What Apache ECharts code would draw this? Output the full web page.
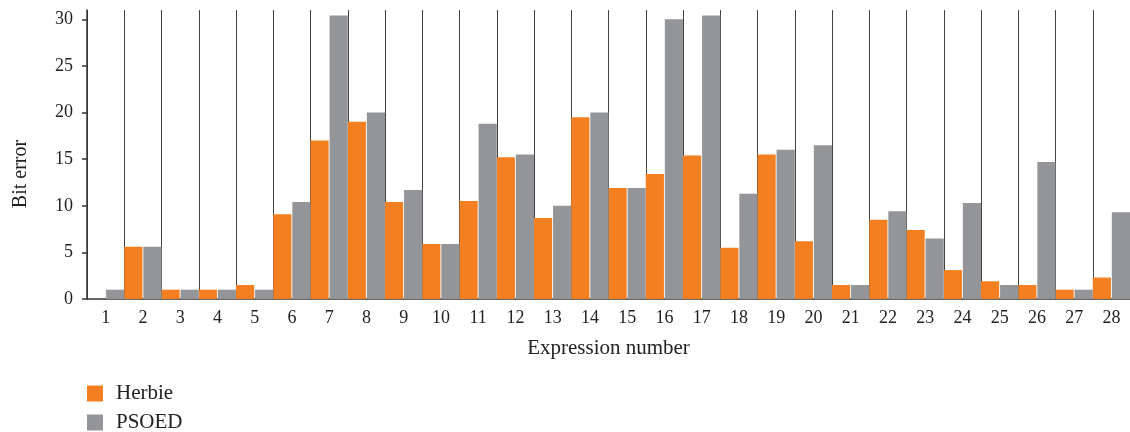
<!DOCTYPE html>
<html>
<head>
<meta charset="utf-8">
<script src="https://cdn.jsdelivr.net/npm/echarts@6/dist/echarts.min.js"></script>
<style>html,body{margin:0;padding:0;background:#fff;}#c{width:1130px;height:432px;}</style>
</head>
<body>
<div id="c"></div>
<script>
const categories = ['1','2','3','4','5','6','7','8','9','10','11','12','13','14','15','16','17','18','19','20','21','22','23','24','25','26','27','28'];
const herbie = [0, 5.6, 1, 1, 1.5, 9.1, 17.0, 19.0, 10.4, 5.9, 10.5, 15.2, 8.7, 19.5, 11.9, 13.4, 15.4, 5.5, 15.5, 6.2, 1.5, 8.5, 7.4, 3.1, 1.9, 1.5, 1, 2.3];
const psoed = [1, 5.6, 1, 1, 1, 10.4, 30.4, 20.0, 11.7, 5.9, 18.8, 15.5, 10.0, 20.0, 11.9, 30.0, 30.4, 11.3, 16.0, 16.5, 1.5, 9.4, 6.5, 10.3, 1.5, 14.7, 1, 9.3];
const yTicks = [0, 5, 10, 15, 20, 25, 30];
const seriesNames = ['Herbie', 'PSOED'];

const font = '"Liberation Serif", "DejaVu Serif", serif';
const legendBase = {
  orient: 'vertical', left: 87, padding: 0,
  itemWidth: 16, itemHeight: 16,
  icon: 'rect',
  textStyle: { fontFamily: font, fontSize: 21, lineHeight: 16, color: '#222', padding: [0, 0, 0, 8] }
};
const chart = echarts.init(document.getElementById('c'));
chart.setOption({
  animation: false,
  textStyle: { fontFamily: font },
  grid: { left: 87, top: 10, width: 1045, height: 289 },
  legend: [
    Object.assign({}, legendBase, { top: 383, data: [seriesNames[0]] }),
    Object.assign({}, legendBase, { top: 412, data: [seriesNames[1]] })
  ],
  graphic: [{
    type: 'text',
    x: 21, y: 174,
    rotation: Math.PI / 2,
    style: { text: 'Bit error', font: '20px ' + font, fill: '#222', align: 'center', verticalAlign: 'middle' }
  }],
  xAxis: {
    type: 'category', data: categories,
    name: 'Expression number', nameLocation: 'middle', nameGap: 39,
    nameTextStyle: { fontFamily: font, fontSize: 21, color: '#222' },
    axisLine: { lineStyle: { color: '#333', width: 1.5 } },
    axisTick: { length: 5, lineStyle: { color: '#333', width: 1.5 } },
    axisLabel: { fontFamily: font, fontSize: 18, color: '#222', margin: 10, interval: 0 },
    splitLine: { show: true, lineStyle: { color: '#444', width: 1 } }
  },
  yAxis: {
    type: 'value', min: 0, max: 31, interval: 5,
    axisLine: { show: true, lineStyle: { color: '#333', width: 1.5 } },
    axisTick: { show: true, length: 5, customValues: yTicks, lineStyle: { color: '#333', width: 1.5 } },
    axisLabel: { fontFamily: font, fontSize: 18, color: '#222', margin: 14, customValues: yTicks },
    splitLine: { show: false }
  },
  series: [
    { name: seriesNames[0], type: 'bar', data: herbie, itemStyle: { color: '#F47F20' }, barGap: '5%', barCategoryGap: '0%' },
    { name: seriesNames[1], type: 'bar', data: psoed, itemStyle: { color: '#939598' }, barGap: '5%', barCategoryGap: '0%' }
  ]
});
</script>
</body>
</html>
